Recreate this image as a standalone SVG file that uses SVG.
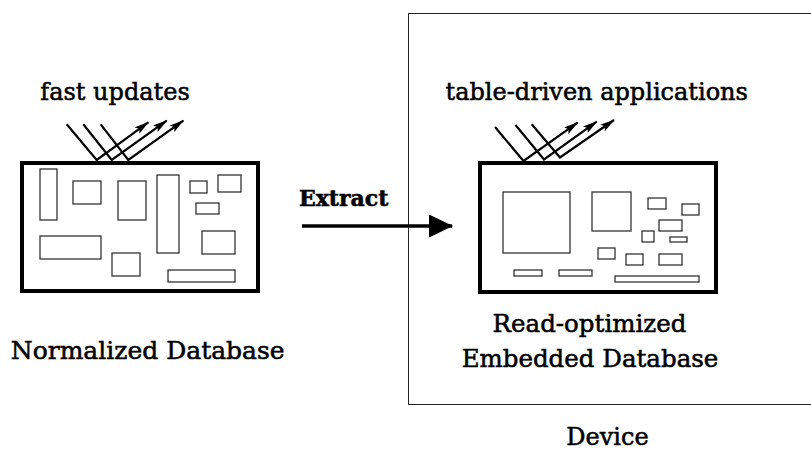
<svg xmlns="http://www.w3.org/2000/svg" width="811" height="451" viewBox="0 0 811 451">
  <style>
    .lbl { font-family: "DejaVu Serif", "Liberation Serif", serif; fill: #000; stroke: #000; stroke-width: 0.55; text-anchor: middle; }
    .db { fill: #fff; stroke: #000; stroke-width: 4; }
    .cell { fill: #fff; stroke: #333; stroke-width: 1.3; }
    .ray { fill: none; stroke: #000; stroke-width: 2.2; stroke-linejoin: miter; }
    .dev { fill: none; stroke: #222; stroke-width: 1; }
    .flow { fill: none; stroke: #000; stroke-width: 3.5; }
  </style>
  <defs>
    <marker id="tip" viewBox="0 0 15 8" refX="14" refY="4" markerWidth="15" markerHeight="8" markerUnits="userSpaceOnUse" orient="auto">
      <path d="M0,0 L15,4 L0,8 L3,4 Z" fill="#000"/>
    </marker>
    <marker id="bigtip" viewBox="0 0 24 23" refX="23" refY="11.5" markerWidth="24" markerHeight="23" markerUnits="userSpaceOnUse" orient="auto">
      <path d="M0,0 L24,11.5 L0,23 Z" fill="#000"/>
    </marker>
  </defs>

  <rect width="811" height="451" fill="#fff"/>

  <g id="device">
    <rect class="dev" x="408.5" y="13.5" width="420" height="391"/>
    <text class="lbl" x="607.5" y="445" font-size="24">Device</text>
  </g>

  <g id="normalized-db">
    <text class="lbl" x="115" y="99.5" font-size="24">fast updates</text>
    <path class="ray" d="M66.7,124.3 L96.7,160 L148.3,122.3" marker-end="url(#tip)"/>
    <path class="ray" d="M83.3,124.3 L111.7,160 L166.7,120.7" marker-end="url(#tip)"/>
    <path class="ray" d="M100.7,124.3 L128.3,160 L183.3,120.7" marker-end="url(#tip)"/>
    <rect class="db" x="22" y="163" width="236" height="128"/>
    <rect class="cell" x="40" y="169" width="17" height="51"/>
    <rect class="cell" x="73" y="181" width="28" height="23"/>
    <rect class="cell" x="118" y="181" width="28" height="39"/>
    <rect class="cell" x="157" y="175" width="22" height="78"/>
    <rect class="cell" x="190" y="181" width="17" height="12"/>
    <rect class="cell" x="218" y="175" width="23" height="17"/>
    <rect class="cell" x="196" y="203" width="23" height="11"/>
    <rect class="cell" x="40" y="236" width="61" height="23"/>
    <rect class="cell" x="112" y="253" width="28" height="23"/>
    <rect class="cell" x="202" y="231" width="33" height="23"/>
    <rect class="cell" x="168" y="270" width="67" height="12"/>
    <text class="lbl" x="147.7" y="358.5" font-size="25">Normalized Database</text>
  </g>

  <g id="embedded-db">
    <text class="lbl" x="596.7" y="99.5" font-size="24">table-driven applications</text>
    <path class="ray" d="M495,127 L523.5,161 L577.5,122.7" marker-end="url(#tip)"/>
    <path class="ray" d="M515.5,125 L544,159.5 L596.7,121.7" marker-end="url(#tip)"/>
    <path class="ray" d="M531.7,124.3 L560,157.5 L614,120" marker-end="url(#tip)"/>
    <rect class="db" x="480" y="163" width="236" height="129"/>
    <rect class="cell" x="503" y="192" width="67" height="61"/>
    <rect class="cell" x="592" y="192" width="39" height="39"/>
    <rect class="cell" x="648" y="198" width="18" height="11"/>
    <rect class="cell" x="682" y="204" width="17" height="11"/>
    <rect class="cell" x="659" y="220" width="23" height="11"/>
    <rect class="cell" x="642" y="231" width="12" height="11"/>
    <rect class="cell" x="670" y="237" width="17" height="5"/>
    <rect class="cell" x="598" y="248" width="17" height="11"/>
    <rect class="cell" x="626" y="254" width="17" height="11"/>
    <rect class="cell" x="659" y="254" width="23" height="11"/>
    <rect class="cell" x="514" y="270" width="28" height="6"/>
    <rect class="cell" x="559" y="270" width="33" height="6"/>
    <rect class="cell" x="615" y="276" width="84" height="6"/>
    <text class="lbl" x="589.5" y="331.5" font-size="24.5">Read-optimized</text>
    <text class="lbl" x="590" y="366.5" font-size="24.5">Embedded Database</text>
  </g>

  <g id="connectors">
    <line class="flow" x1="302" y1="226" x2="452" y2="226" marker-end="url(#bigtip)"/>
    <text class="lbl" x="343.7" y="206" font-size="22" font-weight="bold" stroke-width="0">Extract</text>
  </g>
</svg>
